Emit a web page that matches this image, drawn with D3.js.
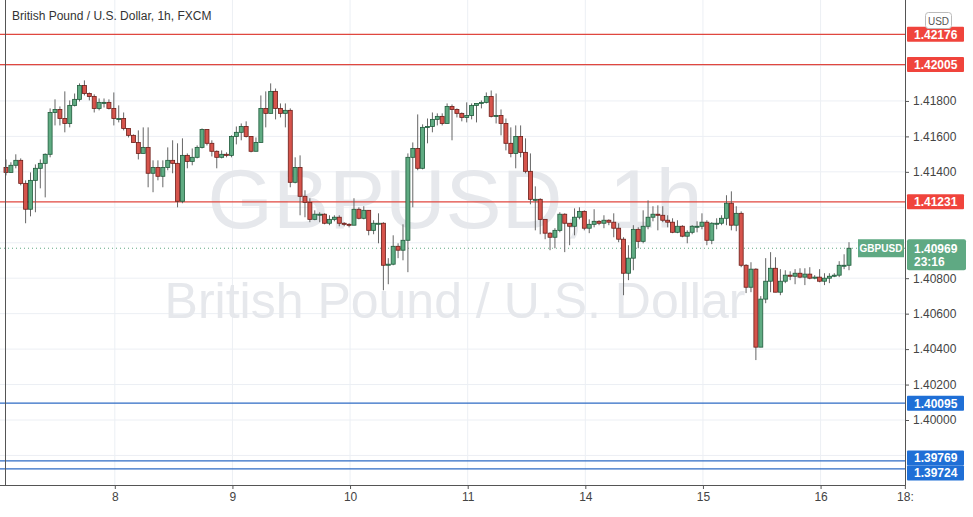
<!DOCTYPE html>
<html><head><meta charset="utf-8">
<script src="https://cdn.jsdelivr.net/npm/d3@7"></script>
<style>body{margin:0;background:#fff;font-family:"Liberation Sans",Arial,sans-serif}</style>
</head><body><svg id="c" width="973" height="517"></svg>
<script>
const firstOpen = 1.41425;
const closes = [1.41397,1.41437,1.41465,1.41335,1.41189,1.41352,1.41420,1.41448,1.41499,1.41735,1.41752,1.41701,1.41673,1.41775,1.41809,1.41887,1.41842,1.41825,1.41758,1.41792,1.41792,1.41758,1.41701,1.41701,1.41645,1.41606,1.41566,1.41504,1.41538,1.41392,1.41425,1.41375,1.41425,1.41465,1.41448,1.41234,1.41493,1.41459,1.41482,1.41538,1.41639,1.41561,1.41516,1.41482,1.41499,1.41493,1.41600,1.41623,1.41656,1.41600,1.41516,1.41566,1.41758,1.41730,1.41854,1.41758,1.41730,1.41747,1.41341,1.41425,1.41262,1.41228,1.41132,1.41161,1.41161,1.41110,1.41132,1.41144,1.41110,1.41104,1.41099,1.41189,1.41138,1.41183,1.41070,1.41110,1.41110,1.40873,1.40879,1.40980,1.40958,1.41014,1.41482,1.41532,1.41420,1.41651,1.41656,1.41696,1.41713,1.41673,1.41769,1.41752,1.41730,1.41707,1.41718,1.41775,1.41786,1.41792,1.41825,1.41713,1.41718,1.41673,1.41561,1.41504,1.41600,1.41510,1.41403,1.41245,1.41245,1.41132,1.41054,1.41031,1.41070,1.41161,1.41110,1.41093,1.41144,1.41177,1.41082,1.41104,1.41121,1.41110,1.41127,1.41116,1.41082,1.41020,1.40828,1.40913,1.41076,1.41008,1.41093,1.41144,1.41161,1.41155,1.41127,1.41116,1.41059,1.41093,1.41037,1.41059,1.41093,1.41093,1.41116,1.41014,1.41110,1.41110,1.41138,1.41223,1.41099,1.41166,1.40873,1.40749,1.40851,1.40411,1.40682,1.40783,1.40856,1.40721,1.40783,1.40817,1.40811,1.40828,1.40806,1.40823,1.40800,1.40806,1.40783,1.40800,1.40811,1.40817,1.40873,1.40873,1.40969];
const highs = [1.41470,1.41454,1.41499,1.41476,1.41352,1.41397,1.41442,1.41470,1.41504,1.41758,1.41809,1.41769,1.41854,1.41803,1.41842,1.41899,1.41916,1.41848,1.41837,1.41814,1.41814,1.41809,1.41848,1.41775,1.41735,1.41645,1.41611,1.41634,1.41651,1.41651,1.41465,1.41465,1.41465,1.41538,1.41578,1.41561,1.41589,1.41504,1.41532,1.41549,1.41645,1.41639,1.41578,1.41521,1.41521,1.41510,1.41606,1.41656,1.41673,1.41685,1.41600,1.41594,1.41831,1.41854,1.41899,1.41870,1.41786,1.41786,1.41758,1.41482,1.41493,1.41296,1.41251,1.41183,1.41172,1.41166,1.41155,1.41155,1.41155,1.41116,1.41110,1.41251,1.41200,1.41206,1.41183,1.41127,1.41166,1.41116,1.40913,1.41042,1.40997,1.41104,1.41504,1.41566,1.41724,1.41668,1.41701,1.41735,1.41730,1.41730,1.41786,1.41780,1.41758,1.41735,1.41792,1.41786,1.41786,1.41803,1.41848,1.41859,1.41842,1.41752,1.41701,1.41651,1.41662,1.41662,1.41589,1.41504,1.41318,1.41251,1.41132,1.41059,1.41082,1.41172,1.41166,1.41110,1.41194,1.41200,1.41183,1.41132,1.41189,1.41127,1.41155,1.41132,1.41166,1.41110,1.41031,1.40986,1.41099,1.41087,1.41183,1.41239,1.41206,1.41211,1.41206,1.41155,1.41138,1.41127,1.41099,1.41070,1.41099,1.41121,1.41166,1.41127,1.41116,1.41138,1.41155,1.41268,1.41290,1.41206,1.41177,1.40879,1.40890,1.40856,1.40699,1.40913,1.40947,1.40918,1.40851,1.40845,1.40839,1.40851,1.40856,1.40856,1.40862,1.40817,1.40851,1.40828,1.40828,1.40828,1.40896,1.40935,1.41003];
const lows = [1.41380,1.41397,1.41420,1.41324,1.41110,1.41149,1.41172,1.41307,1.41256,1.41482,1.41662,1.41662,1.41623,1.41651,1.41769,1.41797,1.41831,1.41803,1.41735,1.41747,1.41763,1.41752,1.41662,1.41679,1.41634,1.41594,1.41566,1.41470,1.41504,1.41313,1.41285,1.41352,1.41313,1.41409,1.41392,1.41200,1.41223,1.41420,1.41437,1.41476,1.41532,1.41549,1.41487,1.41420,1.41476,1.41482,1.41482,1.41555,1.41578,1.41594,1.41510,1.41516,1.41566,1.41651,1.41730,1.41696,1.41707,1.41651,1.41313,1.41335,1.41155,1.41144,1.41116,1.41127,1.41116,1.41104,1.41099,1.41121,1.41093,1.41093,1.41087,1.41099,1.41132,1.41132,1.41042,1.41048,1.40997,1.40732,1.40766,1.40873,1.40913,1.40901,1.40834,1.41200,1.41409,1.41414,1.41561,1.41623,1.41662,1.41662,1.41673,1.41578,1.41707,1.41685,1.41679,1.41696,1.41679,1.41758,1.41786,1.41707,1.41673,1.41606,1.41521,1.41482,1.41420,1.41482,1.41392,1.41217,1.41070,1.41048,1.41020,1.40958,1.40969,1.41059,1.40947,1.40986,1.41042,1.41132,1.41070,1.41054,1.41087,1.41099,1.41082,1.41099,1.41031,1.41003,1.40704,1.40789,1.40845,1.40969,1.40997,1.41076,1.41121,1.41070,1.41116,1.41087,1.41054,1.41054,1.41031,1.40997,1.41048,1.41059,1.41076,1.40986,1.40992,1.41076,1.41099,1.41099,1.41070,1.41065,1.40862,1.40716,1.40721,1.40338,1.40411,1.40659,1.40721,1.40721,1.40704,1.40772,1.40789,1.40766,1.40800,1.40761,1.40794,1.40794,1.40777,1.40761,1.40772,1.40806,1.40806,1.40851,1.40845];
const dayLabels = ["8","9","10","11","14","15","16","18:"];
const dayStarts = [22.2,46.2,70.2,94.2,118.2,142.2,166.2,183.4];
const gridTicks = [1.420,1.418,1.416,1.414,1.412,1.410,1.408,1.406,1.404,1.402,1.400,1.398];
const priceTicks = [1.418,1.416,1.414,1.408,1.406,1.404,1.402,1.400];
const resistance = [1.42176,1.42005,1.41231];
const support = [1.40095,1.39769,1.39724];
const lastPrice = 1.40969;

const candles = closes.map((c,i)=>{const o=i?closes[i-1]:firstOpen;return {i,o,c,h:Math.max(highs[i],c,o),l:Math.min(lows[i],c,o)};});
const svg = d3.select("#c");
const W=905, B=485;
const x = d3.scaleLinear().domain([0,172]).range([6,849]);
const y = d3.scaleLinear().domain([1.40,1.42]).range([420,65.5]);

svg.append("g").selectAll("line").data(gridTicks).join("line")
 .attr("x1",0).attr("x2",W).attr("y1",d=>y(d)).attr("y2",d=>y(d)).attr("stroke","#eceff4");
svg.append("g").selectAll("line").data(dayStarts.slice(0,7)).join("line")
 .attr("x1",d=>x(d)).attr("x2",d=>x(d)).attr("y1",0).attr("y2",B).attr("stroke","#eceff4");

svg.append("text").attr("x",455).attr("y",228).attr("text-anchor","middle").attr("font-size",84)
 .attr("fill","#e6e8ec").text("GBPUSD, 1h");
svg.append("text").attr("x",455).attr("y",318).attr("text-anchor","middle").attr("font-size",50)
 .attr("fill","#e6e8ec").text("British Pound / U.S. Dollar");

svg.append("g").selectAll("line").data(resistance).join("line")
 .attr("x1",0).attr("x2",W).attr("y1",d=>y(d)).attr("y2",d=>y(d)).attr("stroke","#e0473f").attr("stroke-width",1.2);
svg.append("g").selectAll("line").data(support).join("line")
 .attr("x1",0).attr("x2",W).attr("y1",d=>y(d)).attr("y2",d=>y(d)).attr("stroke","#2e6bc4").attr("stroke-width",1.2);
svg.append("line").attr("x1",0).attr("x2",W).attr("y1",y(lastPrice)).attr("y2",y(lastPrice))
 .attr("stroke","#5fa983").attr("stroke-dasharray","1,3");

const g = svg.append("g");
g.selectAll("line").data(candles).join("line")
 .attr("x1",d=>x(d.i)).attr("x2",d=>x(d.i)).attr("y1",d=>y(d.h)).attr("y2",d=>y(d.l))
 .attr("stroke","#666").attr("stroke-width",1);
g.selectAll("rect").data(candles).join("rect")
 .attr("x",d=>x(d.i)-2).attr("width",4)
 .attr("y",d=>y(Math.max(d.o,d.c)))
 .attr("height",d=>Math.max(1,Math.abs(y(d.o)-y(d.c))))
 .attr("fill",d=>d.c>=d.o?"#5fab82":"#d6544c")
 .attr("stroke",d=>d.c>=d.o?"#1f5a3b":"#6b1d18").attr("stroke-width",0.8);

svg.append("line").attr("x1",W+0.5).attr("x2",W+0.5).attr("y1",0).attr("y2",B).attr("stroke","#555");
svg.append("line").attr("x1",0).attr("x2",W+0.5).attr("y1",B+0.5).attr("y2",B+0.5).attr("stroke","#555");
svg.append("line").attr("x1",5.5).attr("x2",5.5).attr("y1",0).attr("y2",B).attr("stroke","#555");

const ya = d3.axisRight(y).tickValues(priceTicks).tickFormat(d3.format(".5f")).tickSize(4);
const yg = svg.append("g").attr("transform",`translate(${W},0)`).call(ya);
yg.select(".domain").remove();
yg.selectAll("text").attr("font-size",12).attr("fill","#444").attr("x",8);
yg.selectAll("line").attr("stroke","#555");
const xa = d3.axisBottom(x).tickValues(dayStarts).tickFormat((d,i)=>dayLabels[i]).tickSize(4);
const xg = svg.append("g").attr("transform",`translate(0,${B})`).call(xa);
xg.select(".domain").remove();
xg.selectAll("text").attr("font-size",12).attr("fill","#444");
xg.selectAll("line").attr("stroke","#555");

function tag(v,col,txt,dy){
  const yy=y(v)+(dy||0);
  svg.append("rect").attr("x",W+2).attr("y",yy-7.5).attr("width",57).attr("height",15).attr("fill",col).attr("rx",1);
  svg.append("text").attr("x",W+9).attr("y",yy+4.5).attr("fill","#fff").attr("font-size",12).attr("font-weight","bold").text(txt);
}
resistance.forEach(v=>tag(v,"#f0443c",v.toFixed(5)));
tag(support[0],"#1f6fd6",support[0].toFixed(5));
tag(support[1],"#1f6fd6",support[1].toFixed(5),-3);
tag(support[2],"#1f6fd6",support[2].toFixed(5),4);
const ly=y(lastPrice);
svg.append("rect").attr("x",858).attr("y",ly-9).attr("width",46).attr("height",18).attr("fill","#5fa983");
svg.append("text").attr("x",881).attr("y",ly+4).attr("text-anchor","middle").attr("fill","#fff").attr("font-size",10).attr("font-weight","bold").text("GBPUSD");
svg.append("rect").attr("x",W+2).attr("y",ly-9).attr("width",59).attr("height",31).attr("fill","#5fa983").attr("rx",2);
svg.append("text").attr("x",W+9).attr("y",ly+5).attr("fill","#fff").attr("font-size",12).attr("font-weight","bold").text(lastPrice.toFixed(5));
svg.append("text").attr("x",W+9).attr("y",ly+18).attr("fill","#fff").attr("font-size",12).attr("font-weight","bold").text("23:16");

svg.append("rect").attr("x",925.5).attr("y",12.5).attr("width",26).attr("height",16).attr("fill","#fff").attr("stroke","#bbb").attr("rx",3);
svg.append("text").attr("x",938.5).attr("y",24.5).attr("text-anchor","middle").attr("font-size",10).attr("fill","#555").text("USD");

svg.append("text").attr("x",12).attr("y",20).attr("font-size",12).attr("fill","#333").text("British Pound / U.S. Dollar, 1h, FXCM");
</script></body></html>
